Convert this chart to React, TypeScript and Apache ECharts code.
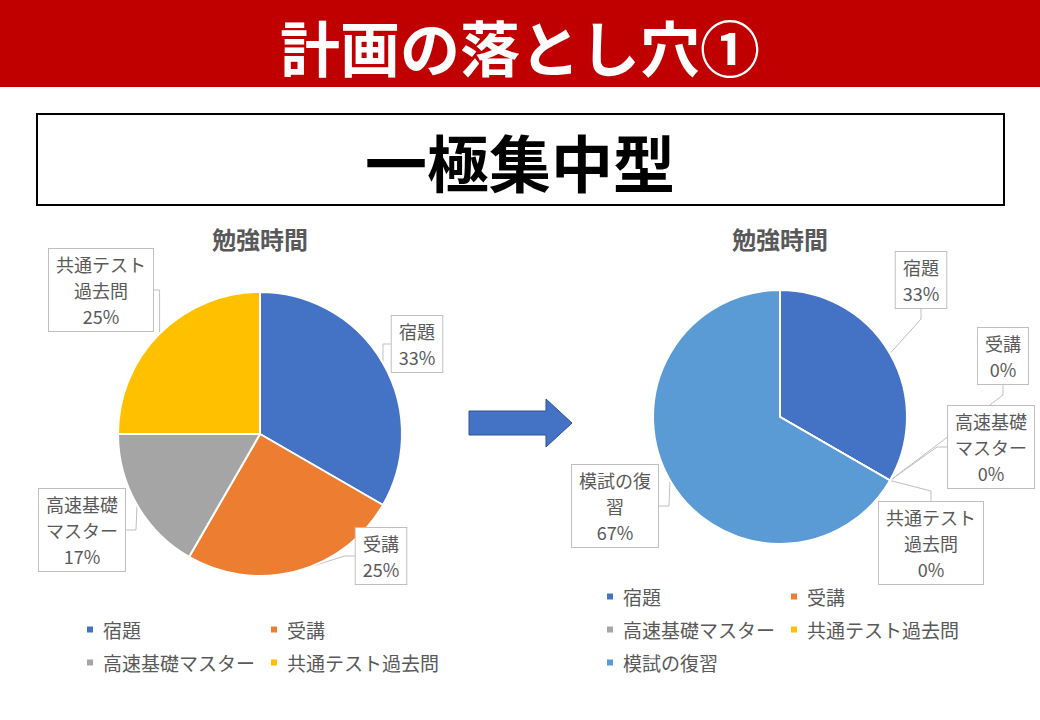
import React, { useEffect, useRef } from 'react';
import * as echarts from 'echarts';

const categories = ['宿題', '受講', '高速基礎マスター', '共通テスト過去問', '模試の復習'];
const beforeValues = [4, 3, 2, 3];
const afterValues = [4, 0, 0, 0, 8];
const sliceColors = ['#4472C4', '#ED7D31', '#A5A5A5', '#FFC000', '#5B9BD5'];
const labelNames = ['宿題', '受講', '高速基礎\nマスター', '共通テスト\n過去問', '模試の復\n習'];
const headerTitle = '計画の落とし穴①';
const boxTitle = '一極集中型';
const chartTitle = '勉強時間';

// label box centres (layout only)
const beforeLabelPos = [[417, 344], [381, 556], [82, 530], [101, 290]];
const afterLabelPos = [[921, 280], [1003, 356], [991, 447], [931, 543], [615, 506]];

const FONT = '"Noto Sans CJK JP", "Noto Sans", sans-serif';
const TEXT_GRAY = '#595959';

function makeData(values: number[]) {
  return values.map((v, i) => ({
    name: categories[i],
    value: v,
    itemStyle: { color: sliceColors[i] },
  }));
}

function makeSeries(values: number[], center: number[], radius: number, pos: number[][]) {
  return {
    type: 'pie',
    center,
    radius,
    startAngle: 90,
    clockwise: true,
    percentPrecision: 0,
    avoidLabelOverlap: false,
    itemStyle: { borderColor: '#ffffff', borderWidth: 2 },
    label: {
      show: true,
      position: 'outside',
      formatter: (p: any) => labelNames[p.dataIndex] + '\n' + p.percent + '%',
      color: TEXT_GRAY,
      fontSize: 18,
      fontFamily: FONT,
      lineHeight: 26,
      align: 'center',
      backgroundColor: '#ffffff',
      borderColor: '#BFBFBF',
      borderWidth: 1,
      padding: [2, 7],
    },
    labelLine: {
      show: true,
      length: 10,
      length2: 10,
      lineStyle: { color: '#BFBFBF', width: 1 },
    },
    labelLayout: (params: any) => {
      const p = pos[params.dataIndex];
      return { x: p[0], y: p[1], align: 'center', verticalAlign: 'middle' };
    },
    emphasis: { disabled: true },
    data: makeData(values),
  };
}

function legendFor(names: string[], left: number, top: number) {
  return {
    show: true,
    data: names,
    left,
    top,
    width: 360,
    padding: 0,
    itemGap: 10,
    itemWidth: 8,
    itemHeight: 8,
    icon: 'rect',
    selectedMode: false,
    textStyle: {
      color: TEXT_GRAY,
      fontSize: 19,
      fontFamily: FONT,
      lineHeight: 23,
      width: 156,
      overflow: 'none',
      padding: [0, 0, 0, 4],
    },
  };
}

export default function App() {
  const ref = useRef<HTMLDivElement>(null);
  useEffect(() => {
    if (!ref.current) return;
    const chart = echarts.init(ref.current, null, { renderer: 'svg' });
    chart.setOption({
      animation: false,
      backgroundColor: '#ffffff',
      legend: [
        legendFor(categories.slice(0, 4), 85, 618),
        legendFor(categories, 605, 585),
      ],
      series: [
        makeSeries(beforeValues, [260, 434], 142, beforeLabelPos),
        makeSeries(afterValues, [780, 417], 127, afterLabelPos),
      ],
      graphic: [
        { type: 'rect', shape: { x: 0, y: 0, width: 1040, height: 87 }, style: { fill: '#C00000' } },
        {
          type: 'text', x: 520, y: 45,
          style: { text: headerTitle, fill: '#ffffff', font: `bold 60px ${FONT}`, align: 'center', verticalAlign: 'middle' },
        },
        { type: 'rect', shape: { x: 37, y: 114, width: 967, height: 91 }, style: { fill: '#ffffff', stroke: '#000000', lineWidth: 2 } },
        {
          type: 'text', x: 520, y: 161,
          style: { text: boxTitle, fill: '#000000', font: `bold 62px ${FONT}`, align: 'center', verticalAlign: 'middle' },
        },
        {
          type: 'text', x: 260, y: 238,
          style: { text: chartTitle, fill: TEXT_GRAY, font: `bold 24px ${FONT}`, align: 'center', verticalAlign: 'middle' },
        },
        {
          type: 'text', x: 780, y: 238,
          style: { text: chartTitle, fill: TEXT_GRAY, font: `bold 24px ${FONT}`, align: 'center', verticalAlign: 'middle' },
        },
        {
          type: 'polygon',
          shape: { points: [[469, 411], [546, 411], [546, 399], [572, 423], [546, 447], [546, 435], [469, 435]] },
          style: { fill: '#4472C4', stroke: '#2F528F', lineWidth: 1 },
        },
      ],
    });
    return () => chart.dispose();
  }, []);
  return <div ref={ref} style={{ position: 'absolute', left: 0, top: 0, width: 1040, height: 720 }} />;
}
